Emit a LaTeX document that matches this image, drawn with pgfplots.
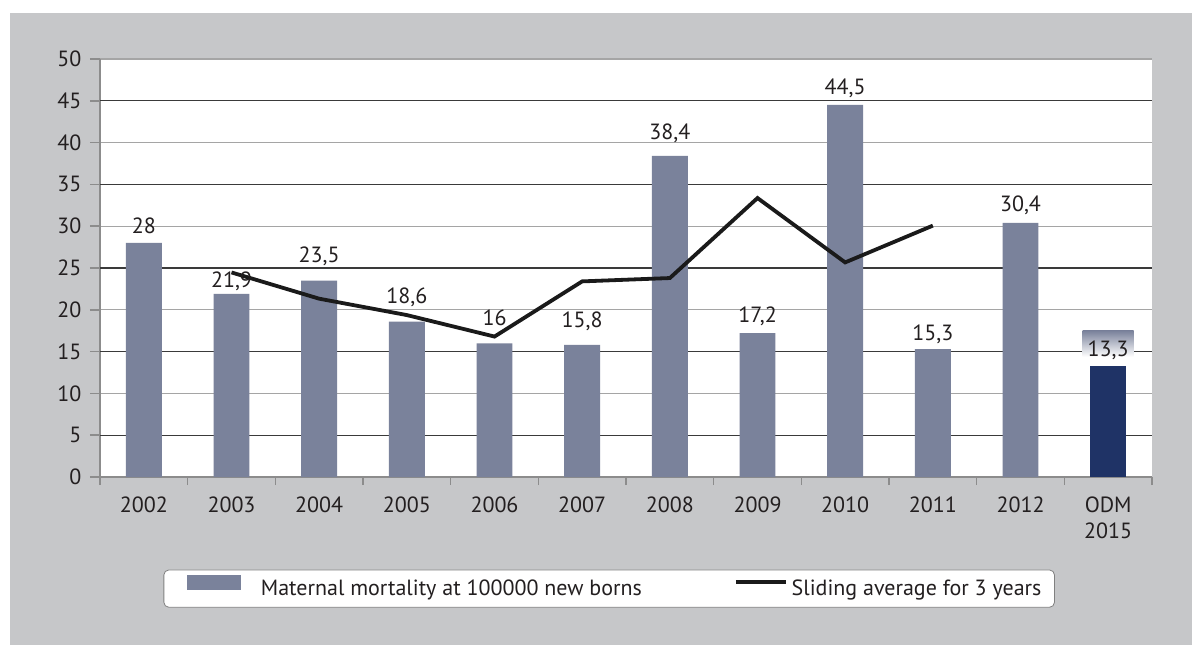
\documentclass[border=0pt]{standalone}
\usepackage{fontspec}
\setmainfont{PT Sans}
\usepackage{pgfplots}
\usepackage{pgfplotstable}
\pgfplotsset{compat=1.18}

\definecolor{bggray}{HTML}{C6C7C9}
\definecolor{barcol}{HTML}{7A829B}
\definecolor{darkbar}{HTML}{1F3366}
\definecolor{linecol}{HTML}{1A1A1A}
\definecolor{griddark}{HTML}{3A3A3A}
\definecolor{gridlight}{HTML}{A5A5A5}
\definecolor{axisgray}{HTML}{8C8C8C}
\definecolor{textcol}{HTML}{231F20}

% x = category index (2002..2012), y = value, dy = label gap above bar (pt)
\pgfplotstableread{
x y dy
0 28 4.7
1 21.9 3
2 23.5 8.9
3 18.6 9
4 16 9
5 15.8 8.9
6 38.4 8
7 17.2 5.2
8 44.5 5
9 15.3 4.2
10 30.4 5.5
}\bars

\begin{document}
\begin{tikzpicture}
  % page: 1px of the reference = 0.5pt
  \fill[white] (-50pt,-84pt) rectangle (546pt,238.5pt);
  \fill[bggray] (-45pt,-84pt) rectangle (546pt,232pt);
  \begin{axis}[
    scale only axis, width=526pt, height=209pt,
    xmin=-0.5, xmax=11.5, ymin=0, ymax=50,
    axis x line*=bottom, axis y line*=left,
    axis line style={axisgray, line width=0.75pt},
    axis background/.style={fill=white},
    font=\fontsize{11}{13}\selectfont, text=textcol,
    /pgf/number format/.cd, use comma, assume math mode=true, /pgfplots/.cd,
    tick align=outside, major tick length=5pt, minor tick length=4pt,
    xtick={0,...,11},
    xticklabels={2002,2003,2004,2005,2006,2007,2008,2009,2010,2011,2012,{ODM\\2015}},
    xticklabel style={align=center, yshift=-1.3pt},
    major x tick style={draw=none},
    minor xtick={-0.5,0.5,...,11.5},
    minor x tick style={draw=axisgray, line width=0.75pt},
    ytick={0,10,...,50},
    extra y ticks={5,15,...,45},
    extra y tick style={grid style={griddark, line width=0.65pt}},
    ymajorgrids, grid style={gridlight, line width=0.65pt},
    y tick style={draw=axisgray, line width=0.75pt},
    yticklabel style={xshift=-0.8pt},
    legend columns=2, legend cell align=left,
    legend style={at={(0.484,-0.267)}, anchor=center, draw=gray, fill=white,
      rounded corners=2.5pt, inner xsep=4.5pt, inner ysep=2.5pt,
      font=\fontsize{11}{13}\selectfont, text=textcol},
  ]
    \addplot[ybar, bar shift=0pt, bar width=0.41, fill=barcol, draw=none,
      visualization depends on={\thisrow{dy} \as \dy},
      nodes near coords,
      nodes near coords style={anchor=base, yshift=\dy pt, text=textcol},
      legend image code/.code={
        \path (-7pt,0) (35pt,0);
        \fill[barcol, sharp corners] (0pt,-0.5pt) rectangle (27pt,7pt);}
    ] table[x=x, y=y] {\bars};
    \addlegendentry{Maternal mortality at 100000 new borns}

    \addplot[sharp plot, linecol, line width=1.9pt,
      legend image code/.code={
        \path (-44pt,0) (0pt,0);
        \draw[linecol, line width=1.9pt, sharp corners] (0pt,3.3pt) -- (25pt,3.3pt);}
    ] coordinates {(1,24.47)(2,21.33)(3,19.37)(4,16.8)(5,23.4)(6,23.8)(7,33.37)(8,25.67)(9,30.07)};
    \addlegendentry{Sliding average for 3 years}

    \addplot[ybar, bar shift=0pt, bar width=0.41, fill=darkbar, draw=none, forget plot,
      nodes near coords,
      nodes near coords style={anchor=base, yshift=4.5pt, text=textcol,
        top color=barcol, bottom color=white, text height=13pt, text depth=0pt,
        inner ysep=0pt, inner xsep=0pt, minimum width=25.5pt}
    ] coordinates {(11,13.3)};
  \end{axis}
\end{tikzpicture}
\end{document}
